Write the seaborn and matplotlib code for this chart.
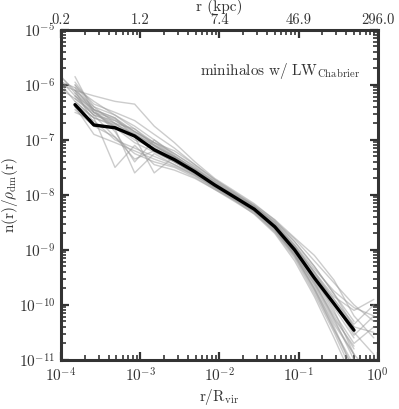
import numpy as np
import pandas as pd
import seaborn as sns
import matplotlib
matplotlib.use("Agg")
import matplotlib.pyplot as plt

sns.set_style("ticks")
plt.rcParams['font.family'] = 'serif'
plt.rcParams['font.serif'] = ['cmr10', 'DejaVu Serif']
plt.rcParams['mathtext.fontset'] = 'cm'
plt.rcParams['axes.formatter.use_mathtext'] = True
plt.rcParams['axes.unicode_minus'] = False
plt.rcParams['text.color'] = '#333333'
plt.rcParams['axes.labelcolor'] = '#333333'
plt.rcParams['xtick.labelcolor'] = '#333333'
plt.rcParams['ytick.labelcolor'] = '#333333'

nan = np.nan

# radial bins (r / R_vir)
r_bins = [8.3e-5, 1.5e-4, 2.6e-4, 4.8e-4, 8.5e-4, 1.5e-3, 2.7e-3, 4.9e-3, 8.7e-3,
          1.55e-2, 2.75e-2, 5.0e-2, 8.9e-2, 0.158, 0.28, 0.50, 0.89]

# median profile, log10 n(r)/rho_dm(r)
median_log = [nan, -6.36, -6.73, -6.78, -6.93, -7.18, -7.36, -7.58, -7.82, -8.04,
              -8.26, -8.58, -9.00, -9.51, -9.98, -10.46, nan]

# individual halos, log10 n(r)/rho_dm(r)
halo_log = [
    [-5.75, -6.10, -6.45, -6.60, -6.85, -7.05, -7.30, -7.55, -7.80, -8.00, -8.22, -8.50, -8.85, -9.30, -9.80, -10.30, nan],
    [nan, -5.85, -6.50, -6.70, -6.80, -7.10, -7.32, -7.60, -7.85, -8.05, -8.28, -8.60, -9.05, -9.60, -10.2, -10.8, nan],
    [nan, -5.95, -6.40, -6.55, -6.75, -7.00, -7.25, -7.50, -7.78, -8.00, -8.22, -8.55, -8.95, -9.40, -9.85, -10.10, -9.90],
    [-5.80, -6.20, -6.55, -6.95, -7.35, -7.20, -7.40, -7.62, -7.85, -8.08, -8.30, -8.62, -9.10, -9.70, -10.4, -11.2, nan],
    [nan, -6.30, -6.60, -7.50, -7.10, -7.45, -7.55, -7.70, -7.90, -8.10, -8.32, -8.68, -9.15, -9.80, -10.5, -11.3, nan],
    [nan, -6.20, -6.45, -6.60, -6.95, -7.60, -7.30, -7.52, -7.75, -7.97, -8.20, -8.48, -8.80, -9.20, -9.60, -10.0, -10.3],
    [-5.90, -6.05, -6.50, -6.75, -7.00, -7.15, -7.35, -7.60, -7.83, -8.05, -8.25, -8.55, -8.95, -9.50, -10.1, -10.9, nan],
    [nan, -6.00, -6.35, -6.50, -6.65, -6.90, -7.15, -7.45, -7.72, -7.95, -8.18, -8.45, -8.78, -9.10, -9.55, -10.2, -10.6],
    [nan, -6.40, -6.90, -7.05, -7.20, -7.35, -7.48, -7.65, -7.88, -8.10, -8.35, -8.70, -9.20, -9.85, -10.6, -11.4, nan],
    [-6.00, -6.25, -6.55, -6.70, -6.90, -7.10, -7.33, -7.57, -7.80, -8.02, -8.25, -8.57, -9.00, -9.55, -10.15, -10.7, -10.4],
    [nan, -6.15, -6.45, -6.85, -7.40, -7.00, -7.28, -7.55, -7.80, -8.03, -8.27, -8.60, -9.05, -9.65, -10.3, -10.9, nan],
    [nan, -6.05, -6.30, -6.55, -6.80, -7.05, -7.25, -7.48, -7.75, -7.98, -8.20, -8.50, -8.90, -9.35, -9.75, -10.05, -10.2],
    [-5.85, -6.30, -6.60, -6.75, -6.95, -7.20, -7.40, -7.62, -7.86, -8.07, -8.30, -8.62, -9.08, -9.70, -10.35, -10.9, -11.3],
    [nan, -6.50, -6.65, -7.00, -7.15, -7.30, -7.45, -7.63, -7.84, -8.05, -8.27, -8.60, -9.02, -9.55, -10.05, -10.6, nan],
    [nan, -6.20, -6.55, -6.65, -6.85, -7.05, -7.20, -7.45, -7.72, -7.96, -8.20, -8.52, -8.92, -9.42, -9.95, -10.55, -10.2],
    [-5.95, -6.10, -6.70, -6.80, -7.60, -7.25, -7.45, -7.65, -7.87, -8.08, -8.30, -8.65, -9.12, -9.75, -10.45, -11.1, nan],
    [nan, -6.35, -6.60, -6.72, -6.90, -7.12, -7.32, -7.55, -7.80, -8.02, -8.24, -8.55, -8.96, -9.45, -9.90, -10.4, -10.5],
    [nan, -6.10, -6.40, -6.70, -6.95, -7.15, -7.35, -7.58, -7.82, -8.04, -8.26, -8.58, -9.00, -9.58, -10.25, -11.0, nan],
    [-5.70, -6.15, -6.50, -6.62, -6.85, -7.08, -7.30, -7.53, -7.77, -8.00, -8.23, -8.53, -8.92, -9.40, -9.90, -10.35, -10.0],
    [nan, -6.45, -6.75, -6.95, -7.25, -7.40, -7.50, -7.68, -7.90, -8.12, -8.34, -8.66, -9.10, -9.72, -10.45, -11.2, nan],
    [nan, -6.00, -6.45, -6.65, -6.88, -7.10, -7.30, -7.54, -7.79, -8.01, -8.24, -8.56, -8.98, -9.50, -10.0, -10.5, -10.9],
    [nan, -6.25, -6.50, -6.78, -7.05, -7.22, -7.40, -7.60, -7.83, -8.05, -8.28, -8.62, -9.08, -9.62, -10.25, -10.75, nan],
    [nan, -6.10, -6.20, -6.30, -6.35, -6.75, -7.05, -7.40, -7.70, -7.93, -8.16, -8.46, -8.85, -9.30, -9.80, -10.4, nan],
]

top_labels = ["0.2", "1.2", "7.4", "46.9", "296.0"]
major_ticks = [1e-4, 1e-3, 1e-2, 1e-1, 1e0]

rows = []
for i, prof in enumerate(halo_log):
    for r, v in zip(r_bins, prof):
        if not np.isnan(v):
            rows.append({"halo": i, "r": r, "ratio": 10 ** v})
df = pd.DataFrame(rows)
med = pd.DataFrame({"r": r_bins, "ratio": 10 ** np.array(median_log)}).dropna()

fig = plt.figure(figsize=(3.99, 4.09), dpi=100)
ax = fig.add_axes([0.153, 0.120, 0.794, 0.807])

sns.lineplot(data=df, x="r", y="ratio", units="halo", estimator=None,
             color="#9a9a9a", alpha=0.5, lw=1.0, ax=ax, sort=False)
sns.lineplot(data=med, x="r", y="ratio", color="black", lw=2.4, ax=ax, sort=False)

ax.set(xscale="log", yscale="log", xlim=(1e-4, 1), ylim=(1e-11, 1e-5))
ax.set_xlabel(r"$\mathrm{r/R_{vir}}$", fontsize=11, labelpad=1)
ax.set_ylabel(r"$\mathrm{n(r)/\rho_{dm}(r)}$", fontsize=11)
ax.yaxis.set_label_coords(-0.13, 0.5)

frame_col = "#333333"
for sp in ax.spines.values():
    sp.set_linewidth(2.2)
    sp.set_color(frame_col)
ax.tick_params(which="both", direction="in", top=False, right=True,
               color=frame_col, labelsize=11)
ax.tick_params(which="major", length=6, width=1.6)
ax.tick_params(which="minor", length=3.5, width=1.2)
ax.tick_params(axis="x", pad=5)
ax.tick_params(axis="y", pad=4)

ax2 = ax.twiny()
ax2.set_xscale("log")
ax2.set_xlim(ax.get_xlim())
ax2.set_xticks(major_ticks)
ax2.set_xticklabels(top_labels)
ax2.set_xlabel("r (kpc)", fontsize=11, labelpad=2)
ax2.tick_params(which="both", direction="in", color=frame_col, labelsize=10.5, pad=2)
ax2.tick_params(which="major", length=6, width=1.6)
ax2.tick_params(which="minor", length=3.5, width=1.2)
for sp in ax2.spines.values():
    sp.set_visible(False)

ax.text(0.945, 0.875, r"$\mathrm{minihalos\ w/\ LW_{Chabrier}}$",
        transform=ax.transAxes, ha="right", va="center", fontsize=11)

fig.savefig("out.png", dpi=100)
